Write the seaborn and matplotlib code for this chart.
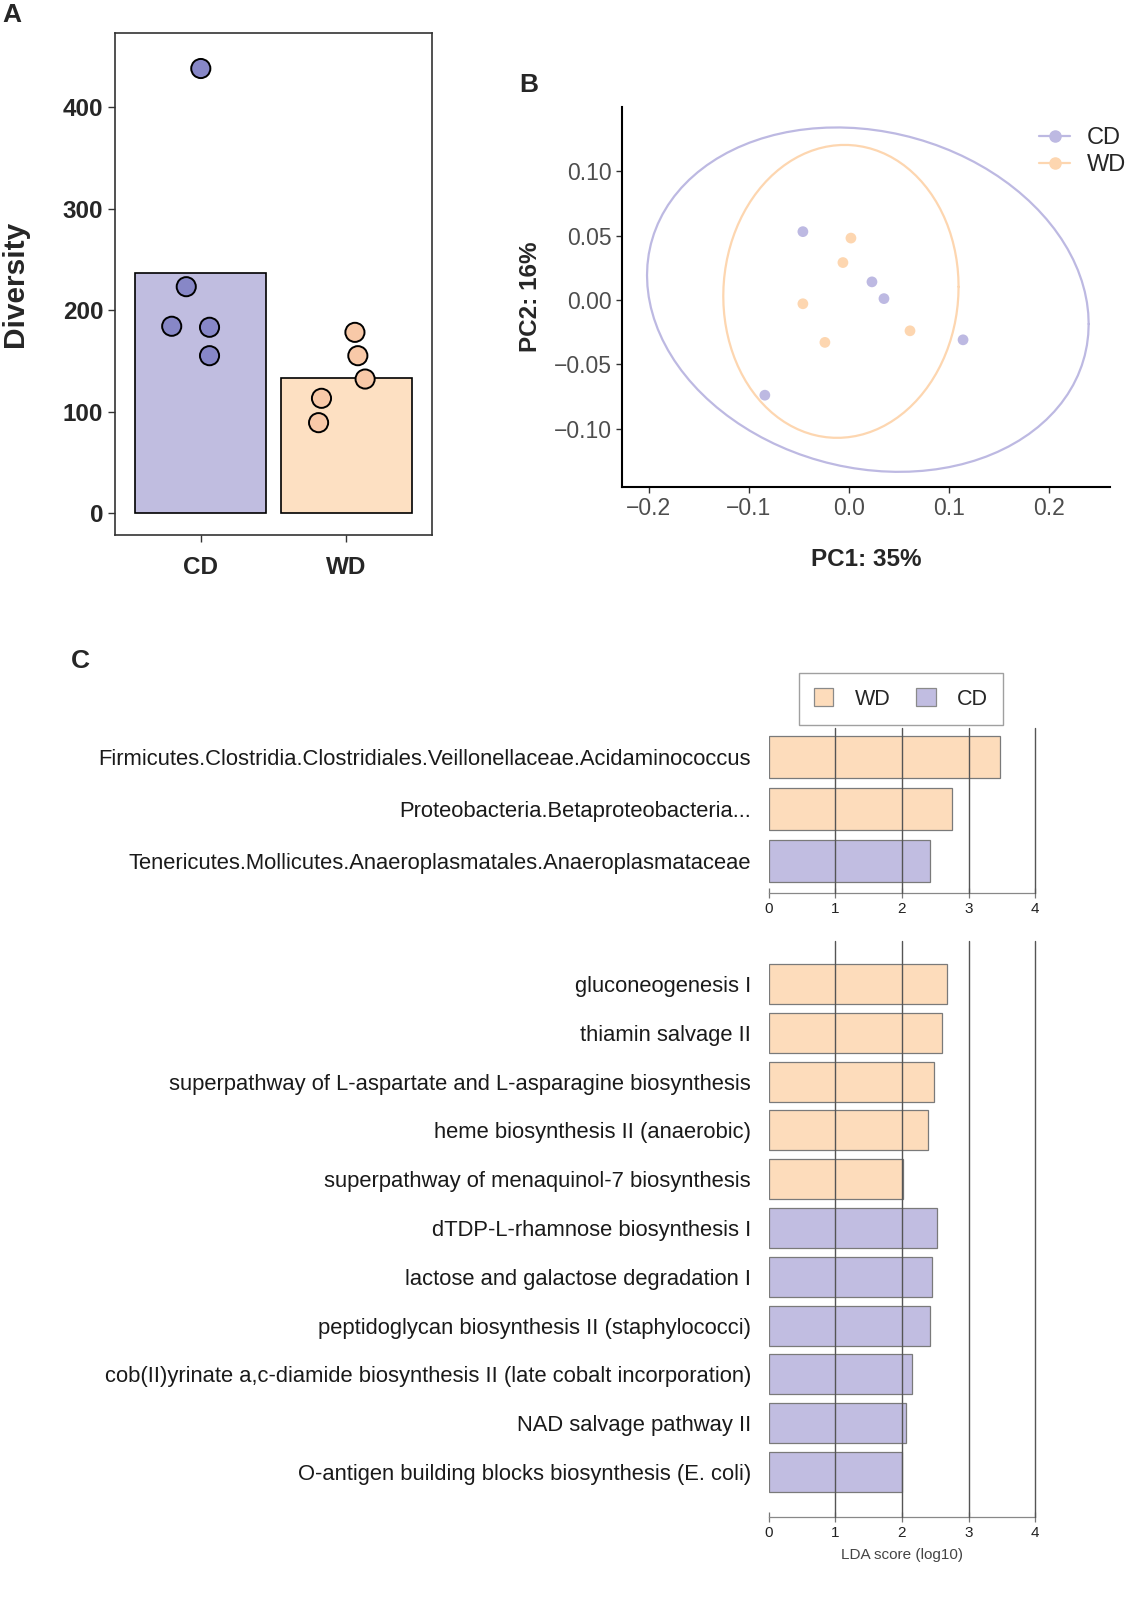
import numpy as np
import pandas as pd
import matplotlib
matplotlib.use("Agg")
import matplotlib.pyplot as plt
from matplotlib.lines import Line2D
from matplotlib.patches import Patch
import seaborn as sns

# ---- data ----
groups = ["CD", "WD"]
div_cd = [438, 223, 184, 183, 155]
div_wd = [178, 155, 132, 113, 89]
# horizontal scatter of the dots around each bar centre
jitter_cd = [0.0, -0.10, -0.20, 0.06, 0.06]
jitter_wd = [0.06, 0.08, 0.13, -0.17, -0.19]

pc1_cd = [-0.046, 0.023, 0.035, 0.114, -0.084]
pc2_cd = [0.053, 0.014, 0.001, -0.031, -0.074]
pc1_wd = [0.002, -0.006, -0.046, -0.024, 0.061]
pc2_wd = [0.048, 0.029, -0.003, -0.033, -0.024]

taxa = [
    "Firmicutes.Clostridia.Clostridiales.Veillonellaceae.Acidaminococcus",
    "Proteobacteria.Betaproteobacteria...",
    "Tenericutes.Mollicutes.Anaeroplasmatales.Anaeroplasmataceae",
]
taxa_lda = [3.48, 2.75, 2.42]
taxa_group = ["WD", "WD", "CD"]

pathways = [
    "gluconeogenesis I",
    "thiamin salvage II",
    "superpathway of L-aspartate and L-asparagine biosynthesis",
    "heme biosynthesis II (anaerobic)",
    "superpathway of menaquinol-7 biosynthesis",
    "dTDP-L-rhamnose biosynthesis I",
    "lactose and galactose degradation I",
    "peptidoglycan biosynthesis II (staphylococci)",
    "cob(II)yrinate a,c-diamide biosynthesis II (late cobalt incorporation)",
    "NAD salvage pathway II",
    "O-antigen building blocks biosynthesis (E. coli)",
]
path_lda = [2.68, 2.60, 2.48, 2.39, 2.02, 2.53, 2.45, 2.42, 2.15, 2.06, 2.00]
path_group = ["WD"] * 5 + ["CD"] * 6

# ---- colours ----
bar_cols = {"CD": "#c0bde0", "WD": "#fde0c2"}
dot_cols = {"CD": "#8787c7", "WD": "#f8c9a8"}
pca_cols = {"CD": "#bdb9e2", "WD": "#fdd6b0"}
lda_cols = {"CD": "#c1bde1", "WD": "#fddcbb"}

sns.set_style("white")
plt.rcParams["font.family"] = ["Liberation Sans", "DejaVu Sans"]

W, H = 1145, 1611
fig = plt.figure(figsize=(W / 100, H / 100), dpi=100)


def rect(x0, y0, x1, y1):
    return [x0 / W, 1 - y1 / H, (x1 - x0) / W, (y1 - y0) / H]


def cov_trob(pts, nu=5, maxit=25, tol=0.01):
    n, p = pts.shape
    loc = pts.mean(0)
    w = np.ones(n)
    X = pts - loc
    for _ in range(maxit):
        w0 = w
        X = pts - loc
        _, d, vt = np.linalg.svd(np.sqrt(w / w.sum())[:, None] * X,
                                 full_matrices=False)
        wX = X @ vt.T @ np.diag(1 / d)
        Q = (wX ** 2).sum(1)
        w = (nu + p) / (nu + Q)
        loc = (w[:, None] * pts).sum(0) / w.sum()
        if np.all(np.abs(w - w0) < tol):
            break
    sX = np.sqrt(w)[:, None] * X
    return loc, sX.T @ sX / n


def ellipse_path(xs, ys, level=0.95, segments=100):
    # same recipe as ggplot2::stat_ellipse(type = "t")
    pts = np.column_stack([xs, ys])
    centre, shape = cov_trob(pts)
    dfd = len(xs) - 1
    fq = dfd / 2 * ((1 - level) ** (-2 / dfd) - 1)
    radius = np.sqrt(2 * fq)
    ang = np.linspace(0, 2 * np.pi, segments + 1)
    circle = np.column_stack([np.cos(ang), np.sin(ang)])
    U = np.linalg.cholesky(shape).T
    return centre + radius * circle @ U


# ---------------- Panel A ----------------
axA = fig.add_axes(rect(115, 33, 432, 535))
div_df = pd.DataFrame({
    "group": ["CD"] * len(div_cd) + ["WD"] * len(div_wd),
    "diversity": div_cd + div_wd,
})
sns.barplot(data=div_df, x="group", y="diversity", hue="group", order=groups,
            palette=bar_cols, saturation=1, errorbar=None, width=0.9,
            edgecolor="black", linewidth=1.2, legend=False, ax=axA)
div_df["xpos"] = div_df["group"].map({"CD": 0, "WD": 1}) + np.array(jitter_cd + jitter_wd)
sns.scatterplot(data=div_df, x="xpos", y="diversity", hue="group",
                palette=dot_cols, s=190, edgecolor="black", linewidth=1.4,
                legend=False, zorder=5, ax=axA)
axA.set_xlim(-0.59, 1.59)
axA.set_ylim(-21.7, 473)
axA.set_xticks([0, 1])
axA.set_xticklabels(groups)
axA.set_yticks([0, 100, 200, 300, 400])
axA.set_xlabel("")
axA.set_ylabel("Diversity", fontsize=21.5, fontweight="bold", labelpad=24)
axA.tick_params(axis="both", labelsize=17.5, length=5, width=1, color="#333",
                direction="out", bottom=True, left=True)
axA.tick_params(axis="x", pad=10)
for lab in axA.get_xticklabels() + axA.get_yticklabels():
    lab.set_fontweight("bold")
for sp in axA.spines.values():
    sp.set_color("#333")
    sp.set_linewidth(1.2)

# ---------------- Panel B ----------------
axB = fig.add_axes(rect(622, 107, 1110, 487))
pca_df = pd.DataFrame({
    "PC1": pc1_cd + pc1_wd,
    "PC2": pc2_cd + pc2_wd,
    "group": ["CD"] * len(pc1_cd) + ["WD"] * len(pc1_wd),
})
for g, xs, ys in [("CD", pc1_cd, pc2_cd), ("WD", pc1_wd, pc2_wd)]:
    e = ellipse_path(np.array(xs), np.array(ys))
    axB.plot(e[:, 0], e[:, 1], color=pca_cols[g], lw=1.6)
sns.scatterplot(data=pca_df, x="PC1", y="PC2", hue="group", palette=pca_cols,
                s=60, linewidth=0, legend=False, zorder=4, ax=axB)
axB.set_xlim(-0.2267, 0.2608)
axB.set_ylim(-0.1453, 0.1498)
axB.set_xticks([-0.2, -0.1, 0.0, 0.1, 0.2])
axB.set_xticklabels(["\u22120.2", "\u22120.1", "0.0", "0.1", "0.2"])
axB.set_yticks([-0.10, -0.05, 0.0, 0.05, 0.10])
axB.set_yticklabels(["\u22120.10", "\u22120.05", "0.00", "0.05", "0.10"])
axB.tick_params(axis="both", labelsize=16.5, labelcolor="#4d4d4d", length=4,
                width=1, color="#333", direction="out", bottom=True, left=True)
axB.set_xlabel("PC1: 35%", fontsize=17.5, fontweight="bold", labelpad=20)
axB.set_ylabel("PC2: 16%", fontsize=17.5, fontweight="bold", labelpad=8)
axB.spines["top"].set_visible(False)
axB.spines["right"].set_visible(False)
for sp in ["left", "bottom"]:
    axB.spines[sp].set_color("black")
    axB.spines[sp].set_linewidth(1.5)
handles = [Line2D([], [], color=pca_cols[g], marker="o", markersize=8, lw=1.6)
           for g in groups]
fig.legend(handles, groups, loc="upper left", bbox_to_anchor=(1030 / W, 1 - 118 / H),
           frameon=False, fontsize=17, handlelength=1.3, handletextpad=0.7,
           labelspacing=0.2, borderaxespad=0)

# ---------------- Panel C ----------------
taxa_df = pd.DataFrame({"feature": taxa, "lda": taxa_lda, "group": taxa_group})
path_df = pd.DataFrame({"feature": pathways, "lda": path_lda, "group": path_group})

axC1 = fig.add_axes(rect(769, 728, 1035, 893))
axC2 = fig.add_axes(rect(769, 941, 1035, 1517))
for ax, df, lims, width in [(axC1, taxa_df, (2.615, -0.56), 0.8),
                            (axC2, path_df, (10.92, -0.88), 0.82)]:
    sns.barplot(data=df, x="lda", y="feature", hue="group", palette=lda_cols,
                saturation=1, dodge=False, width=width, orient="h",
                edgecolor="#7a7a7a", linewidth=0.9, legend=False, ax=ax)
    for v in [1, 2, 3, 4]:
        ax.axvline(v, color="#555555", lw=1.0, zorder=4, clip_on=False)
    ax.set_xlim(0, 4)
    ax.set_ylim(*lims)
    ax.set_xticks([0, 1, 2, 3, 4])
    ax.set_xlabel("")
    ax.set_ylabel("")
    ax.tick_params(axis="y", length=0, labelsize=15.8, labelcolor="#1a1a1a", pad=13)
    ax.tick_params(axis="x", length=7, width=0.9, color="#777777", direction="inout",
                   labelsize=11, labelcolor="#222222", bottom=True, pad=3)
    for sp in ["top", "right", "left"]:
        ax.spines[sp].set_visible(False)
    ax.spines["bottom"].set_color("#888888")
    ax.spines["bottom"].set_linewidth(0.9)
axC2.set_xlabel("LDA score (log10)", fontsize=11, color="#444444", labelpad=6)

leg_handles = [Patch(facecolor=lda_cols[g], edgecolor="#8a8a8a", lw=0.9)
               for g in ["WD", "CD"]]
legC = fig.legend(leg_handles, ["WD", "CD"], loc="center",
                  bbox_to_anchor=(901 / W, 1 - 699 / H), ncol=2, fontsize=15.5,
                  frameon=True, fancybox=False, edgecolor="#888888",
                  handlelength=0.9, handleheight=0.9, handletextpad=1.0,
                  columnspacing=1.2, borderpad=0.7)
legC.get_frame().set_linewidth(1.0)

# panel letters
fig.text(2 / W, 1 - 15 / H, "A", fontsize=19, fontweight="bold", va="center")
fig.text(519 / W, 1 - 85 / H, "B", fontsize=19, fontweight="bold", va="center")
fig.text(71 / W, 1 - 661 / H, "C", fontsize=19, fontweight="bold", va="center")

fig.savefig("out.png", dpi=100, facecolor="white")
